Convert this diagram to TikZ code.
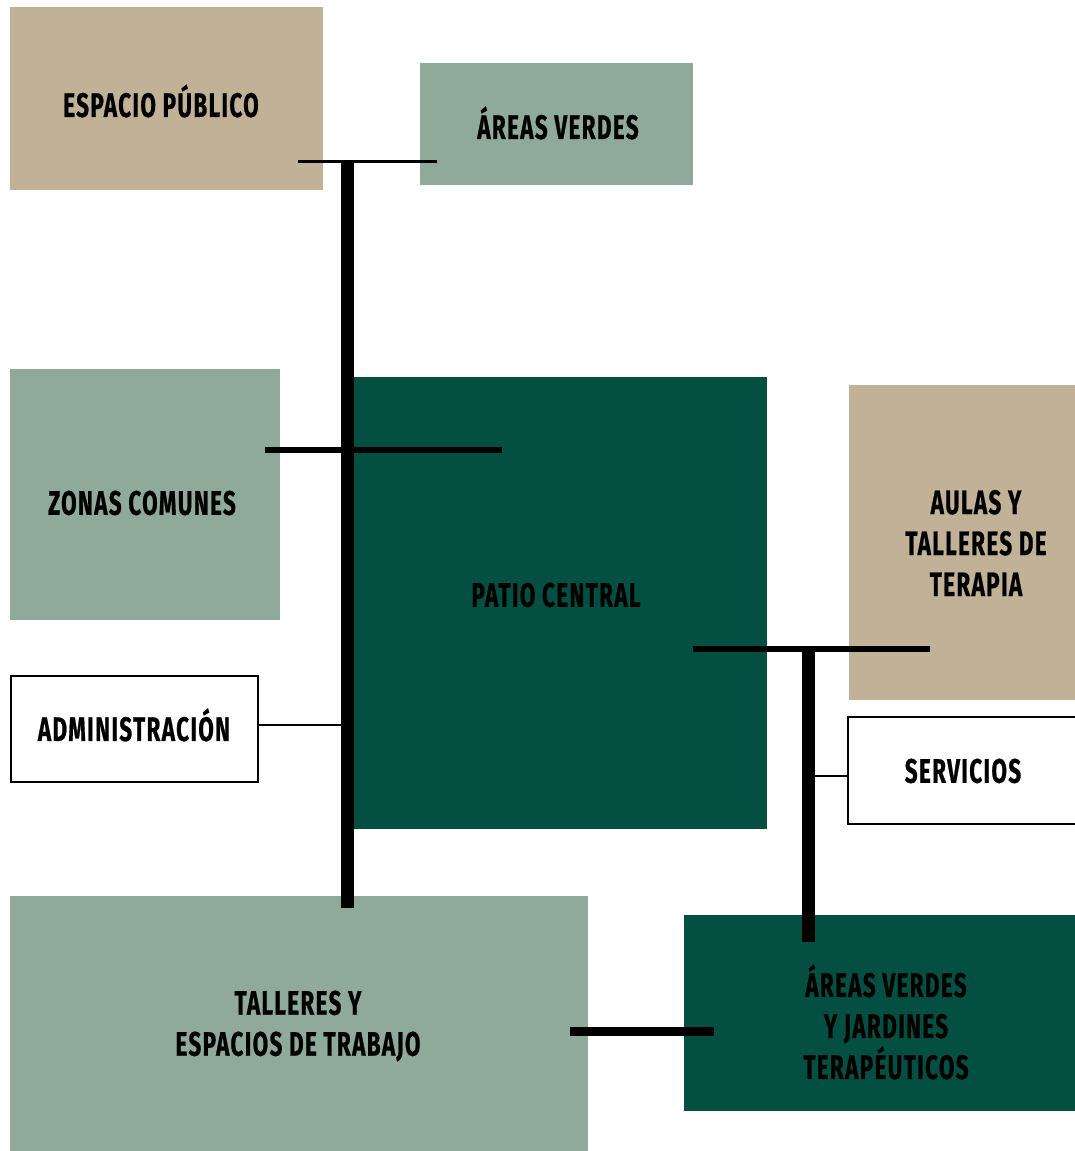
\documentclass[tikz,border=0pt]{standalone}
\usepackage{fontspec}
\newfontfamily\lab[FakeStretch=0.66,LetterSpace=4,FakeBold=0.6]{Fira Sans}
\definecolor{tan}{RGB}{193,178,151}
\definecolor{sage}{RGB}{143,170,154}
\definecolor{dkgreen}{RGB}{3,79,66}
\begin{document}
\begin{tikzpicture}[x=1pt,y=-1pt,
  blk/.style={inner sep=0pt, outer sep=0pt, anchor=north west},
  wbox/.style={blk, draw=black, line width=2pt, fill=white},
  txt/.style={font=\lab\bfseries\fontsize{34}{41}\selectfont, align=center, text=black, inner sep=0pt},
  bus/.style={draw=black, line cap=butt}]
\useasboundingbox (0,0) rectangle (1075,1151);
% boxes
\node[blk, fill=tan, minimum width=313pt, minimum height=183pt] (espB) at (10,7) {};
\node[blk, fill=sage, minimum width=273pt, minimum height=122pt] (areasB) at (420,63) {};
\node[blk, fill=sage, minimum width=270pt, minimum height=251pt] (zonasB) at (10,369) {};
\node[blk, fill=dkgreen, minimum width=413pt, minimum height=452pt] (patioB) at (354,377) {};
\node[blk, fill=tan, minimum width=226pt, minimum height=315pt] (aulasB) at (849,385) {};
\node[wbox, minimum width=247pt, minimum height=106pt] (adminB) at (11,676) {};
\node[wbox, minimum width=240pt, minimum height=107pt] (servB) at (848,717) {};
\node[blk, fill=sage, minimum width=578pt, minimum height=255pt] (tallB) at (10,896) {};
\node[blk, fill=dkgreen, minimum width=391pt, minimum height=196pt] (jardB) at (684,915) {};
% labels
\node[txt] (espT) at (161,101) {ESPACIO PÚBLICO};
\node[txt] (areasT) at (558,123) {ÁREAS VERDES};
\node[txt] (zonasT) at (142,503) {ZONAS COMUNES};
\node[txt] (patioT) at (556,595) {PATIO CENTRAL};
\node[txt] (aulasT) at (976,543) {AULAS Y\\TALLERES DE\\TERAPIA};
\node[txt] (adminT) at (134,725) {ADMINISTRACIÓN};
\node[txt] (servT) at (963,771) {SERVICIOS};
\node[txt] (tallT) at (298,1026) {TALLERES Y\\ESPACIOS DE TRABAJO};
\node[txt] (jardT) at (886,1022) {ÁREAS VERDES\\Y JARDINES\\TERAPÉUTICOS};
% bus coordinates
\coordinate (vTop) at (347.5,160);
\coordinate (vBot) at (347.5,908);
\coordinate (h1L) at (298,161);
\coordinate (h1R) at (437,161);
\coordinate (h2L) at (265,450);
\coordinate (h2R) at (502,450);
\coordinate (admJ) at (341,725);
\coordinate (rTop) at (808.5,647);
\coordinate (rBot) at (808.5,942);
\coordinate (h3L) at (693,649);
\coordinate (h3R) at (930,649);
\coordinate (srvJ) at (815,776);
\coordinate (b1L) at (570,1031);
\coordinate (b1R) at (714,1031);
% connectors
\draw[bus, line width=13pt] (vTop) -- (vBot);
\draw[bus, line width=3pt] (h1L) -- (h1R);
\draw[bus, line width=6pt] (h2L) -- (h2R);
\draw[bus, line width=2.5pt] (adminB.east |- admJ) -- (admJ);
\draw[bus, line width=13pt] (rTop) -- (rBot);
\draw[bus, line width=6pt] (h3L) -- (h3R);
\draw[bus, line width=2pt] (srvJ) -- (servB.west |- srvJ);
\draw[bus, line width=9pt] (b1L) -- (b1R);
\end{tikzpicture}
\end{document}
